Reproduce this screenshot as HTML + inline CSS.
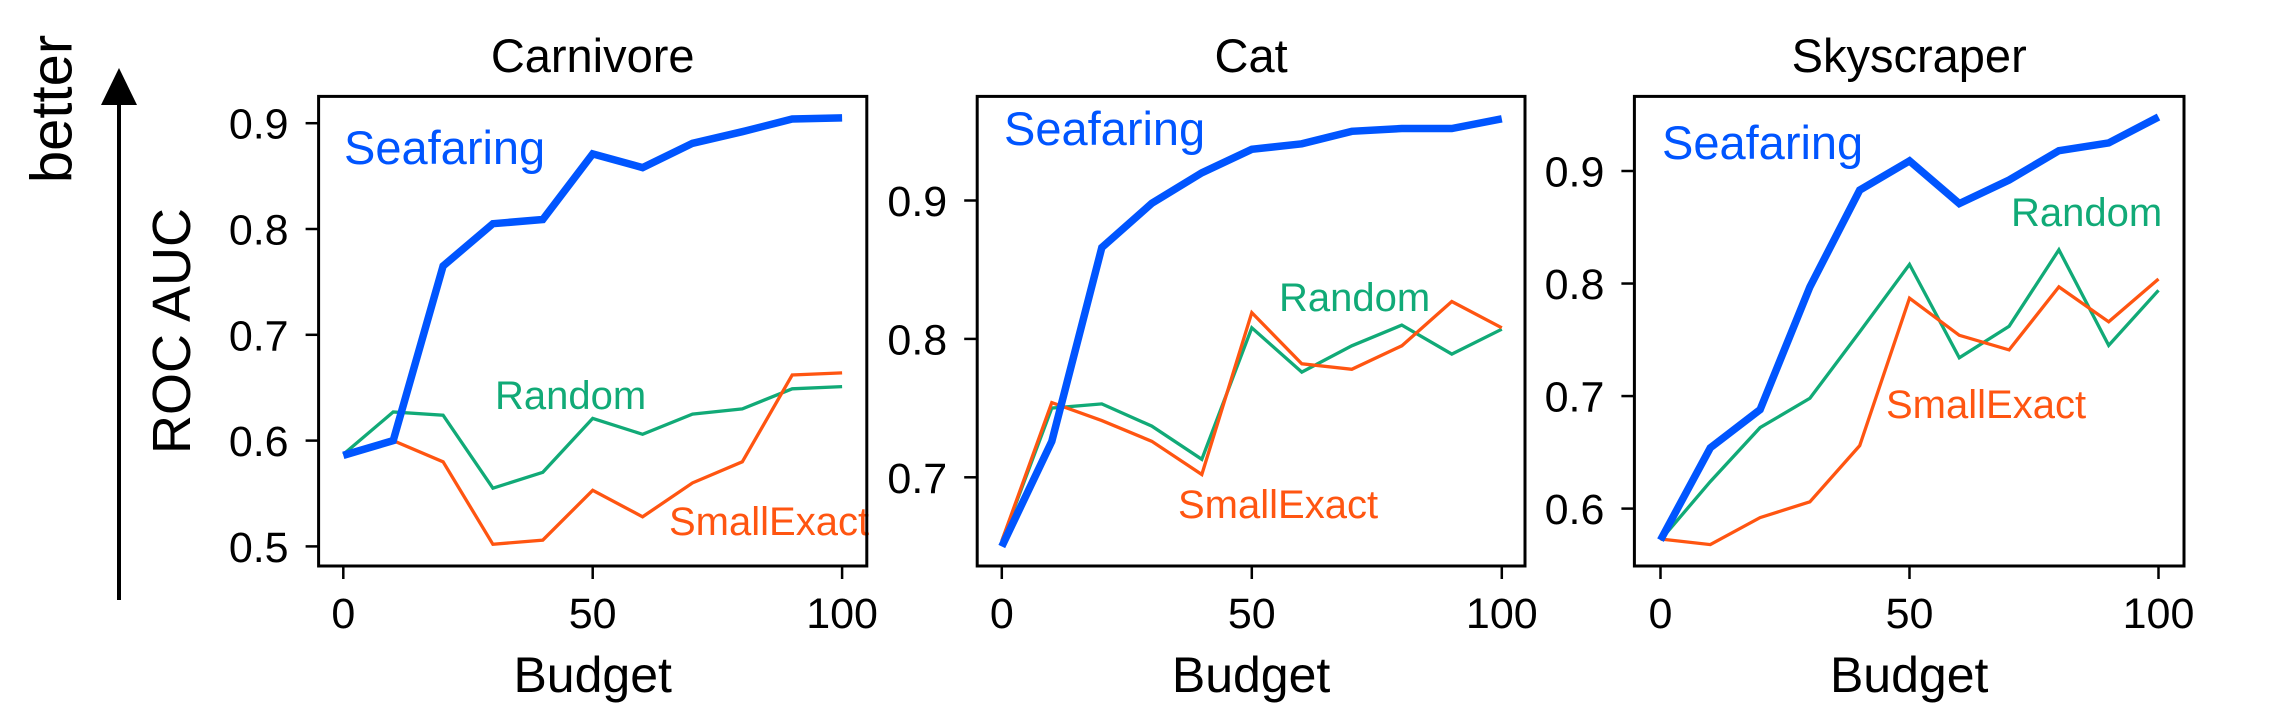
<!DOCTYPE html>
<html><head><meta charset="utf-8"><style>
html,body{margin:0;padding:0;background:#fff;}
svg{display:block;font-family:"Liberation Sans",sans-serif;}
</style></head><body>
<svg id="fig" width="2290" height="704" viewBox="0 0 2290 704" xmlns="http://www.w3.org/2000/svg">
<g>
<line x1="119" y1="600" x2="119" y2="100" stroke="#000" stroke-width="4"/>
<polygon points="101,105 137,105 119,68" fill="#000"/>
<text x="52" y="109" transform="rotate(-90 52 109)" text-anchor="middle" dominant-baseline="central" font-size="58">better</text>
</g>
<text x="172" y="331" transform="rotate(-90 172 331)" text-anchor="middle" dominant-baseline="central" font-size="54">ROC AUC</text>
</svg>
<script>
const budgets = [0,10,20,30,40,50,60,70,80,90,100];
const xTicks = [0,50,100];
const carnivoreSeafaring = [0.586,0.600,0.765,0.805,0.809,0.871,0.858,0.881,0.892,0.904,0.905];
const carnivoreRandom = [0.587,0.627,0.624,0.555,0.570,0.621,0.606,0.625,0.630,0.649,0.651];
const carnivoreSmallExact = [0.587,0.600,0.580,0.502,0.506,0.553,0.528,0.560,0.580,0.662,0.664];
const catSeafaring = [0.650,0.726,0.866,0.898,0.920,0.937,0.941,0.950,0.952,0.952,0.959];
const catRandom = [0.654,0.750,0.753,0.737,0.713,0.808,0.776,0.795,0.810,0.789,0.807];
const catSmallExact = [0.654,0.754,0.741,0.726,0.702,0.819,0.782,0.778,0.795,0.827,0.808];
const skySeafaring = [0.572,0.654,0.688,0.797,0.883,0.909,0.871,0.892,0.918,0.925,0.948];
const skyRandom = [0.572,0.624,0.672,0.698,0.757,0.817,0.734,0.762,0.830,0.745,0.794];
const skySmallExact = [0.573,0.568,0.592,0.606,0.656,0.787,0.754,0.741,0.797,0.766,0.804];
const carnivoreYTicks = [0.5,0.6,0.7,0.8,0.9];
const catYTicks = [0.7,0.8,0.9];
const skyYTicks = [0.6,0.7,0.8,0.9];

const NS = "http://www.w3.org/2000/svg";
const svg = document.getElementById('fig');
function mk(tag, attrs, parent){
  const e = document.createElementNS(NS, tag);
  for (const k in attrs) e.setAttribute(k, attrs[k]);
  parent.appendChild(e);
  return e;
}
const panels = [
  {key:'carnivore', title:'Carnivore', L:318.6, R:866.8, x0px:343.3, x100px:842.1, yA:0.5, yApx:546.4, yB:0.9, yBpx:123.2, ticks:carnivoreYTicks,
   s:carnivoreSeafaring, r:carnivoreRandom, e:carnivoreSmallExact,
   lab:{s:[344,164],r:[495,409],e:[669,535]}},
  {key:'cat', title:'Cat', L:977.2, R:1525, x0px:1001.8, x100px:1501.8, yA:0.7, yApx:477.3, yB:0.9, yBpx:200.5, ticks:catYTicks,
   s:catSeafaring, r:catRandom, e:catSmallExact,
   lab:{s:[1004,145],r:[1279,311],e:[1178,518]}},
  {key:'skyscraper', title:'Skyscraper', L:1634.4, R:2184, x0px:1660.5, x100px:2158.5, yA:0.6, yApx:508.6, yB:0.9, yBpx:171, ticks:skyYTicks,
   s:skySeafaring, r:skyRandom, e:skySmallExact,
   lab:{s:[1662,159],r:[2011,226],e:[1886,418]}}
];
const TOP=96.4, BOT=566;
const colors = {s:'#0055ff', r:'#11aa77', e:'#ff5511'};
panels.forEach(p=>{
  const g = mk('g',{},svg);
  
  
  const xs = v => p.x0px + (v-0)/(100-0)*(p.x100px-p.x0px);
  const ys = v => p.yApx + (v-p.yA)/(p.yB-p.yA)*(p.yBpx-p.yApx);
  const t = mk('text',{x:(p.L+p.R)/2, y:72, 'text-anchor':'middle','font-size':47},g);
  t.textContent = p.title;
  
  
  xTicks.forEach(v=>{
    const l = mk('line',{x1:xs(v),x2:xs(v),y1:BOT,y2:BOT+13,stroke:'#000','stroke-width':2.5},g);
    
    
    const tl = mk('text',{x:xs(v),y:628,'text-anchor':'middle','font-size':43},g);
    tl.textContent = String(v);
    
    
  });
  p.ticks.forEach(v=>{
    const l = mk('line',{x1:p.L-13,x2:p.L,y1:ys(v),y2:ys(v),stroke:'#000','stroke-width':2.5},g);
    
    
    const tl = mk('text',{x:p.L-30,y:ys(v)+15.5,'text-anchor':'end','font-size':43},g);
    tl.textContent = v.toFixed(1);
    
    
  });
  const xl = mk('text',{x:(p.L+p.R)/2, y:692,'text-anchor':'middle','font-size':50},g);
  xl.textContent = 'Budget';
  
  
  const series = [['r','random',3.3],['e','smallexact',3.3],['s','seafaring',7.5]];
  series.forEach(([k,name,w])=>{
    const pts = budgets.map((b,i)=>xs(b).toFixed(1)+','+ys(p[k][i]).toFixed(1)).join(' ');
    const pl = mk('polyline',{points:pts,fill:'none',stroke:colors[k],'stroke-width':w,'stroke-linejoin':'miter'},g);
    
    
  });
  const labels = [['s','Seafaring',47,'seafaring'],['r','Random',40,'random'],['e','SmallExact',40,'smallexact']];
  labels.forEach(([k,txt,fs,name])=>{
    const tl = mk('text',{x:p.lab[k][0],y:p.lab[k][1],'font-size':fs,fill:colors[k]},g);
    tl.textContent = txt;
    
    
  });
  const fr = mk('rect',{x:p.L,y:TOP,width:p.R-p.L,height:BOT-TOP,fill:'none',stroke:'#000','stroke-width':3},g);
  
  
});
</script>
</body></html>
